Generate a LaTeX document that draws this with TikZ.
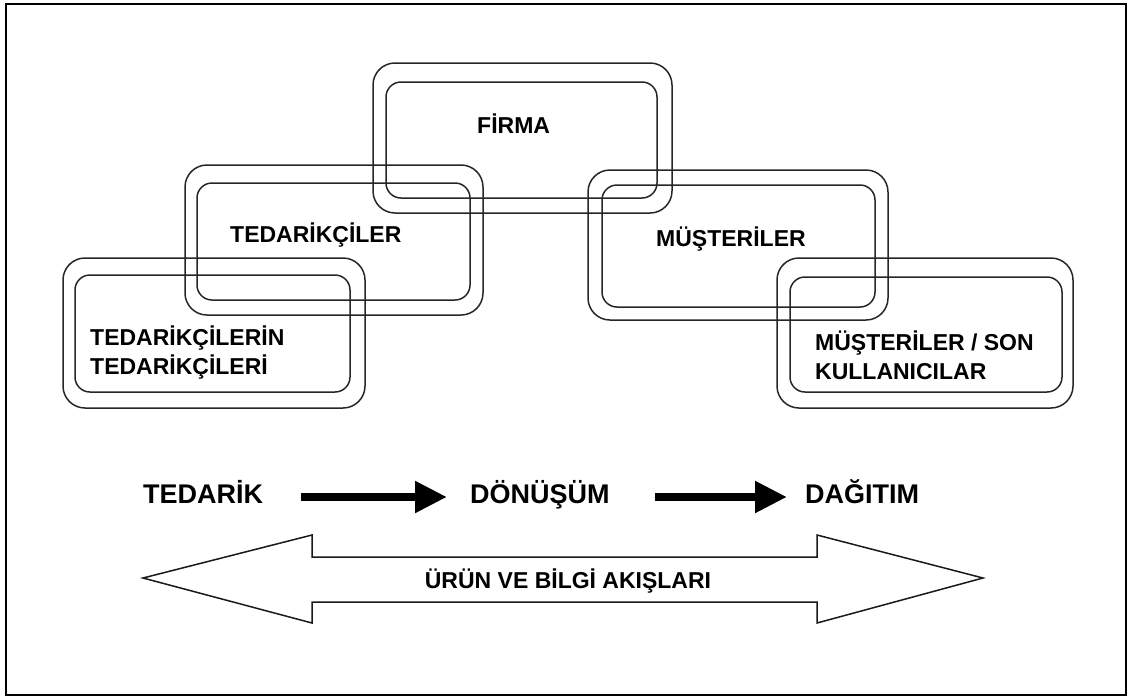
\documentclass[tikz,border=0pt]{standalone}
\usepackage{fontspec}
\setmainfont{Liberation Sans}
\usetikzlibrary{arrows.meta}
\begin{document}
\begin{tikzpicture}[x=1pt,y=-1pt,
  outerbox/.style={draw=black!85, line width=1.5pt, rounded corners=22pt},
  innerbox/.style={draw=black!85, line width=1.5pt, rounded corners=15pt},
  boxlabel/.style={font=\fontsize{23}{29}\selectfont\bfseries, anchor=base west,
    inner sep=0pt, align=left},
  stagelabel/.style={font=\fontsize{27}{32}\selectfont\bfseries, anchor=base west,
    inner sep=0pt},
  flowarrow/.style={line width=8pt, -{Triangle[length=32pt 0 0, width=30pt 0 0]}},
  bigarrow/.style={draw=black!90, line width=1.5pt, line join=miter}
]
\useasboundingbox (0,0) rectangle (1128,697);
\draw[line width=2pt] (6,4) rectangle (1126,695);

% supply chain stages: each one a pair of nested rounded frames
\draw[outerbox] (373,63) rectangle (672,213);
\draw[innerbox] (386,82) rectangle (657,198);
\draw[outerbox] (185,165) rectangle (483,315);
\draw[innerbox] (197,183) rectangle (470,300);
\draw[outerbox] (63,258) rectangle (365,408);
\draw[innerbox] (75,275) rectangle (350,392);
\draw[outerbox] (588,170) rectangle (888,320);
\draw[innerbox] (602,185) rectangle (875,307);
\draw[outerbox] (777,258) rectangle (1073,408);
\draw[innerbox] (790,277) rectangle (1062,392);

% two-line labels are anchored at the baseline of their last line
\node[boxlabel] (firma) at (477,133) {FİRMA};
\node[boxlabel] (ted1) at (230,242) {TEDARİKÇİLER};
\node[boxlabel] (ted2) at (90,374) {TEDARİKÇİLERİN\\TEDARİKÇİLERİ};
\node[boxlabel] (mus1) at (656,246) {MÜŞTERİLER};
\node[boxlabel] (mus2) at (815,379) {MÜŞTERİLER / SON\\KULLANICILAR};

% process stages along the chain
\node[stagelabel] (ted) at (143,503) {TEDARİK};
\node[stagelabel] (don) at (470,503) {DÖNÜŞÜM};
\node[stagelabel] (dag) at (805,503) {DAĞITIM};
\draw[flowarrow] ([shift={(38,-6)}]ted.base east) -- ([shift={(-23,-6)}]don.base west);
\draw[flowarrow] ([shift={(45,-6)}]don.base east) -- ([shift={(-18,-6)}]dag.base west);

% two-way flow of goods and information
\draw[bigarrow] (143,578) -- (312,535) -- (312,557) -- (817,557) -- (817,535)
  -- (983,578) -- (817,623) -- (817,602) -- (312,602) -- (312,623) -- cycle;
\node[font=\fontsize{23}{28}\selectfont\bfseries, anchor=base, inner sep=0pt]
  (flow) at (568,588) {ÜRÜN VE BİLGİ AKIŞLARI};
\end{tikzpicture}
\end{document}
